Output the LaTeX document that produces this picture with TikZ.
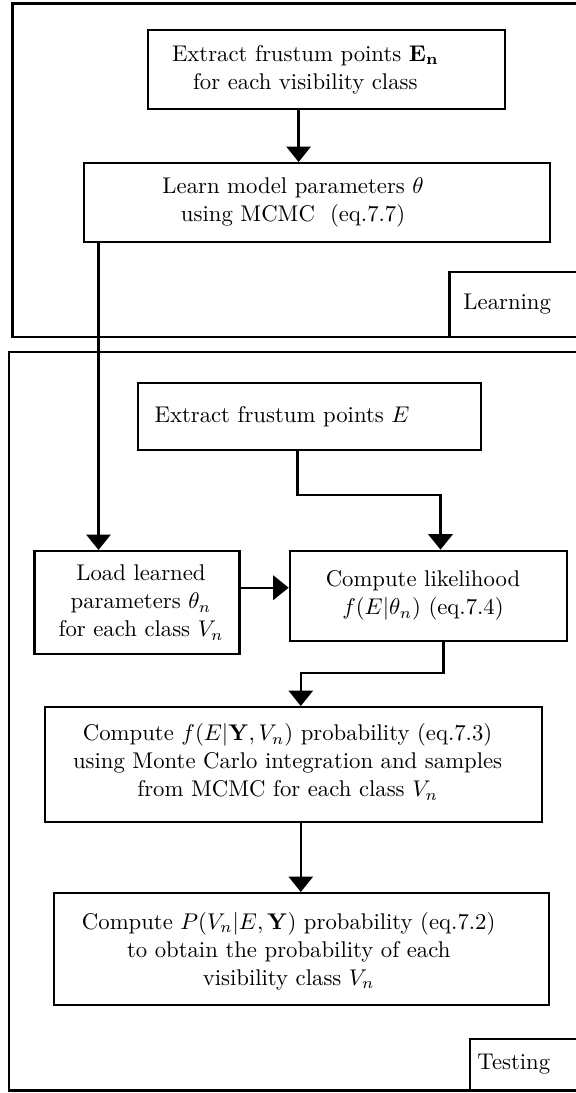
\documentclass[tikz,border=0pt]{standalone}
\usetikzlibrary{arrows.meta}
\begin{document}
\begin{tikzpicture}[x=0.44pt,y=-0.44pt,
  box/.style={draw,line width=0.9pt,inner sep=0pt},
  txt/.style={align=center,inner sep=0pt,font=\fontsize{10}{12.3}\selectfont},
  tagtxt/.style={anchor=west,inner sep=0pt,font=\fontsize{10}{12.3}\selectfont},
  frame/.style={draw,line width=1.3pt},
  tagbox/.style={draw,line width=0.9pt},
  arr/.style={line width=1.0pt,-{Triangle[width=10.7pt,length=6.8pt]}}]
\useasboundingbox (0,0) rectangle (576,1093);
\clip (0,0) rectangle (576,1093);
% frames
\draw[frame] (12.5,3.5) rectangle (620,337);
\draw[tagbox] (449.5,272) rectangle (620,337);
\node[tagtxt] (ltag) at (463,304) {Learning};
\draw[frame] (9,352) rectangle (620,1090.5);
\draw[tagbox] (470,1039) rectangle (620,1090.5);
\node[tagtxt] (ttag) at (477,1064) {Testing};
% boxes
\node[box,minimum width=357*0.44pt,minimum height=79*0.44pt] (b1) at (326.5,69.5) {};
\node[txt] (t1) at (305.3,69.5) {Extract frustum points $\mathbf{E_n}$\\for each visibility class};
\node[box,minimum width=466*0.44pt,minimum height=79*0.44pt] (b2) at (316.8,202.5) {};
\node[txt] (t2) at (293.1,202.5) {Learn model parameters $\theta$\\using MCMC\ \ (eq.7.7)};
\node[box,minimum width=343*0.44pt,minimum height=67*0.44pt] (b3) at (309.5,416.5) {};
\node[txt] (t3) at (282,416.5) {Extract frustum points $E$};
\node[box,minimum width=205*0.44pt,minimum height=103*0.44pt] (load) at (137,602.5) {};
\node[txt] (tload) at (141,602.5) {Load learned\\parameters $\theta_n$\\for each class $V_n$};
\node[box,minimum width=277*0.44pt,minimum height=90*0.44pt] (lik) at (428.2,595.7) {};
\node[txt] (tlik) at (423,595.7) {Compute likelihood\\$f(E|\theta_n)$ (eq.7.4)};
\node[box,minimum width=497.5*0.44pt,minimum height=115*0.44pt] (b5) at (293.4,764.5) {};
\node[txt] (t5) at (287.6,762) {Compute $f(E|\mathbf{Y},V_n)$ probability (eq.7.3)\\using Monte Carlo integration and samples\\from MCMC for each class $V_n$};
\node[box,minimum width=494.8*0.44pt,minimum height=112*0.44pt] (b6) at (301.4,949) {};
\node[txt] (t6) at (288.7,951) {Compute $P(V_n|E,\mathbf{Y})$ probability (eq.7.2)\\to obtain the probability of each\\visibility class $V_n$};
% connector guides
\coordinate (c1) at (298.6,0);
\coordinate (c2) at (98.5,0);
\coordinate (c3) at (297.5,495);
\coordinate (c4) at (440.5,0);
\coordinate (c5) at (0,587.7);
\coordinate (c6) at (443.5,672.7);
\coordinate (c7) at (300.8,0);
% connectors
\draw[arr] (b1.south -| c1) -- (b2.north -| c1);
\draw[arr] (b2.south -| c2) -- (load.north -| c2);
\draw[arr] (b3.south -| c3) -- (c3) -- (c3 -| c4) -- (lik.north -| c4);
\draw[arr] (load.east |- c5) -- (lik.west |- c5);
\draw[arr] (lik.south -| c6) -- (c6) -- (c6 -| c7) -- (b5.north -| c7);
\draw[arr] (b5.south -| c7) -- (b6.north -| c7);
\end{tikzpicture}
\end{document}
